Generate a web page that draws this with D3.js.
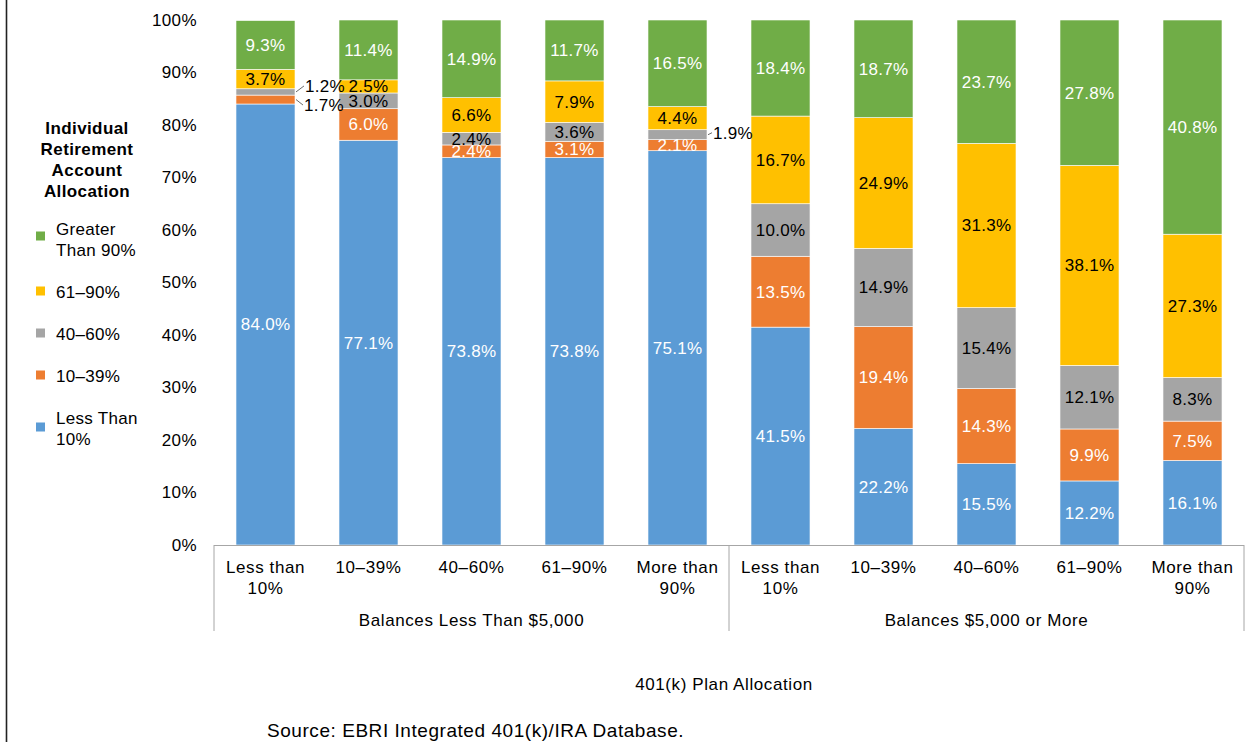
<!DOCTYPE html>
<html>
<head>
<meta charset="utf-8">
<script src="https://cdn.jsdelivr.net/npm/d3@7/dist/d3.min.js"></script>
<style>
  html, body { margin: 0; padding: 0; background: #fff; }
  svg { display: block; font-family: "Liberation Sans", Arial, sans-serif; }
</style>
</head>
<body>
<svg id="chart" width="1250" height="742"></svg>
<script>
// 401(k) plan allocation buckets, shown once per balance group
const categories = ["Less than|10%", "10–39%", "40–60%", "61–90%", "More than|90%"];
const groups = ["Balances Less Than $5,000", "Balances $5,000 or More"];

// IRA allocation series (bottom to top of each stack)
const seriesNames = ["Less Than 10%", "10–39%", "40–60%", "61–90%", "Greater Than 90%"];
const seriesColors = ["#5B9BD5", "#ED7D31", "#A5A5A5", "#FFC000", "#70AD47"];
const labelColors = ["#fff", "#fff", "#000", "#000", "#fff"];

// Values per bar, in order: group 1 (five buckets), then group 2 (five buckets)
const lessThan10 = [84.0, 77.1, 73.8, 73.8, 75.1, 41.5, 22.2, 15.5, 12.2, 16.1];
const from10to39 = [1.7, 6.0, 2.4, 3.1, 2.1, 13.5, 19.4, 14.3, 9.9, 7.5];
const from40to60 = [1.2, 3.0, 2.4, 3.6, 1.9, 10.0, 14.9, 15.4, 12.1, 8.3];
const from61to90 = [3.7, 2.5, 6.6, 7.9, 4.4, 16.7, 24.9, 31.3, 38.1, 27.3];
const greaterThan90 = [9.3, 11.4, 14.9, 11.7, 16.5, 18.4, 18.7, 23.7, 27.8, 40.8];

const yTicks = [0, 10, 20, 30, 40, 50, 60, 70, 80, 90, 100];

const seriesValues = [lessThan10, from10to39, from40to60, from61to90, greaterThan90];
const keys = ["s0", "s1", "s2", "s3", "s4"];

const rows = [];
groups.forEach((g, gi) => {
  categories.forEach((c, ci) => {
    const i = gi * categories.length + ci;
    const row = { id: gi + "-" + ci, group: gi, cat: c, idx: i };
    keys.forEach((k, si) => row[k] = seriesValues[si][i]);
    rows.push(row);
  });
});

const FONT = "'Liberation Sans', Arial, sans-serif";
const svg = d3.select("#chart");

// Outer frame line on the left edge
svg.append("line")
  .attr("x1", 6.5).attr("x2", 6.5).attr("y1", 0).attr("y2", 742)
  .attr("stroke", "#222").attr("stroke-width", 1.6);

const plotLeft = 214, plotRight = 1244, plotTop = 20, plotBottom = 545;

const x = d3.scaleBand()
  .domain(rows.map(r => r.id))
  .range([plotLeft, plotRight])
  .paddingInner(0.427)
  .paddingOuter(0.2135);

const y = d3.scaleLinear().domain([0, 100]).range([plotBottom, plotTop]);

const stacked = d3.stack().keys(keys)(rows);

svg.append("clipPath").attr("id", "plotclip")
  .append("rect").attr("x", plotLeft).attr("y", plotTop)
  .attr("width", plotRight - plotLeft).attr("height", plotBottom - plotTop);

// Stacked bars
const barG = svg.append("g").attr("clip-path", "url(#plotclip)");
stacked.forEach((layer, si) => {
  barG.selectAll(null)
    .data(layer)
    .join("rect")
    .attr("x", d => x(d.data.id))
    .attr("width", x.bandwidth())
    .attr("y", d => y(Math.min(d[1], 100)))
    .attr("height", d => y(d[0]) - y(Math.min(d[1], 100)))
    .attr("fill", seriesColors[si])
    .attr("stroke", "#fff")
    .attr("stroke-width", 0.6);
});

// Y axis (labels only)
const yAxis = d3.axisLeft(y).tickValues(yTicks).tickFormat(d => d + "%").tickSize(0).tickPadding(0);
const yg = svg.append("g").attr("transform", `translate(197,0)`).call(yAxis);
yg.select(".domain").remove();
yg.selectAll("text").attr("font-size", 17).attr("fill", "#000")
  .attr("letter-spacing", 0.4).attr("font-family", FONT);

// Segment value labels; a few thin segments get callouts beside the bar
const callouts = {
  "0-0|s2": { dx: 8, dy: -6 },
  "0-0|s1": { dx: 7, dy: 5.5 },
  "0-4|s2": { dx: 4, dy: -2 }
};
const fmt = d3.format(".1f");
const labelG = svg.append("g").attr("font-size", 17).attr("letter-spacing", 0.3).attr("font-family", FONT);
stacked.forEach((layer, si) => {
  layer.forEach(d => {
    const key = d.data.id + "|" + keys[si];
    const v = d.data[keys[si]];
    const top = Math.min(d[1], 100);
    const cy = (y(d[0]) + y(top)) / 2;
    const bx = x(d.data.id);
    if (callouts[key]) {
      const c = callouts[key];
      const lx = bx + x.bandwidth() + c.dx;
      const ly = cy + c.dy;
      labelG.append("path")
        .attr("d", `M${bx + x.bandwidth() + 1},${cy} L${lx + 1},${ly}`)
        .attr("stroke", "#444").attr("stroke-width", 0.8).attr("fill", "none");
      labelG.append("text")
        .attr("x", lx + 2).attr("y", ly)
        .attr("dy", "0.35em")
        .attr("fill", "#000")
        .text(fmt(v) + "%");
    } else {
      labelG.append("text")
        .attr("x", bx + x.bandwidth() / 2).attr("y", cy)
        .attr("dy", "0.35em")
        .attr("text-anchor", "middle")
        .attr("fill", labelColors[si])
        .text(fmt(v) + "%");
    }
  });
});

// Category axis: baseline, group dividers and labels
const axisG = svg.append("g").attr("stroke", "#A6A6A6").attr("stroke-width", 1);
axisG.append("line").attr("x1", plotLeft).attr("x2", plotRight).attr("y1", plotBottom + 0.5).attr("y2", plotBottom + 0.5);
const groupEdges = [plotLeft, x(rows[5].id) - (x.step() - x.bandwidth()) / 2, plotRight];
groupEdges.forEach(ex => {
  axisG.append("line").attr("x1", ex).attr("x2", ex).attr("y1", plotBottom).attr("y2", 631);
});

const catG = svg.append("g").attr("font-size", 17).attr("letter-spacing", 0.6).attr("fill", "#000")
  .attr("font-family", FONT).attr("text-anchor", "middle");
rows.forEach(r => {
  const cx = x(r.id) + x.bandwidth() / 2;
  const lines = r.cat.split("|");
  const t = catG.append("text").attr("x", cx).attr("y", 573);
  lines.forEach((ln, i) => {
    t.append("tspan").attr("x", cx).attr("dy", i === 0 ? 0 : 21).text(ln);
  });
});
groups.forEach((g, gi) => {
  const gx = (groupEdges[gi] + groupEdges[gi + 1]) / 2;
  catG.append("text").attr("x", gx).attr("y", 626).text(g);
});

// Axis title and source note
svg.append("text").attr("x", 724).attr("y", 690)
  .attr("text-anchor", "middle").attr("font-size", 17).attr("letter-spacing", 0.6)
  .attr("font-family", FONT).attr("fill", "#000")
  .text("401(k) Plan Allocation");
svg.append("text").attr("x", 267).attr("y", 737)
  .attr("font-size", 19).attr("letter-spacing", 0.55).attr("font-family", FONT).attr("fill", "#000")
  .text("Source: EBRI Integrated 401(k)/IRA Database.");

// Legend
const legG = svg.append("g").attr("font-family", FONT);
const legTitle = ["Individual", "Retirement", "Account", "Allocation"];
legTitle.forEach((t, i) => {
  legG.append("text").attr("x", 87).attr("y", 134 + i * 21)
    .attr("text-anchor", "middle").attr("font-size", 17).attr("letter-spacing", 0.4)
    .attr("font-weight", "bold")
    .text(t);
});
const legItems = [
  { s: 4, lines: ["Greater", "Than 90%"], y: 236, ty: 239.5 },
  { s: 3, lines: ["61–90%"], y: 291, ty: 292 },
  { s: 2, lines: ["40–60%"], y: 333, ty: 334 },
  { s: 1, lines: ["10–39%"], y: 375, ty: 376 },
  { s: 0, lines: ["Less Than", "10%"], y: 427, ty: 428.5 }
];
legItems.forEach(item => {
  legG.append("rect").attr("x", 36).attr("y", item.y - 4.5).attr("width", 9).attr("height", 9)
    .attr("fill", seriesColors[item.s]);
  const n = item.lines.length;
  item.lines.forEach((ln, i) => {
    legG.append("text").attr("x", 56).attr("y", item.ty + (i - (n - 1) / 2) * 21)
      .attr("dy", "0.35em").attr("font-size", 17).attr("letter-spacing", 0.3)
      .attr("fill", "#000").text(ln);
  });
});
</script>
</body>
</html>
